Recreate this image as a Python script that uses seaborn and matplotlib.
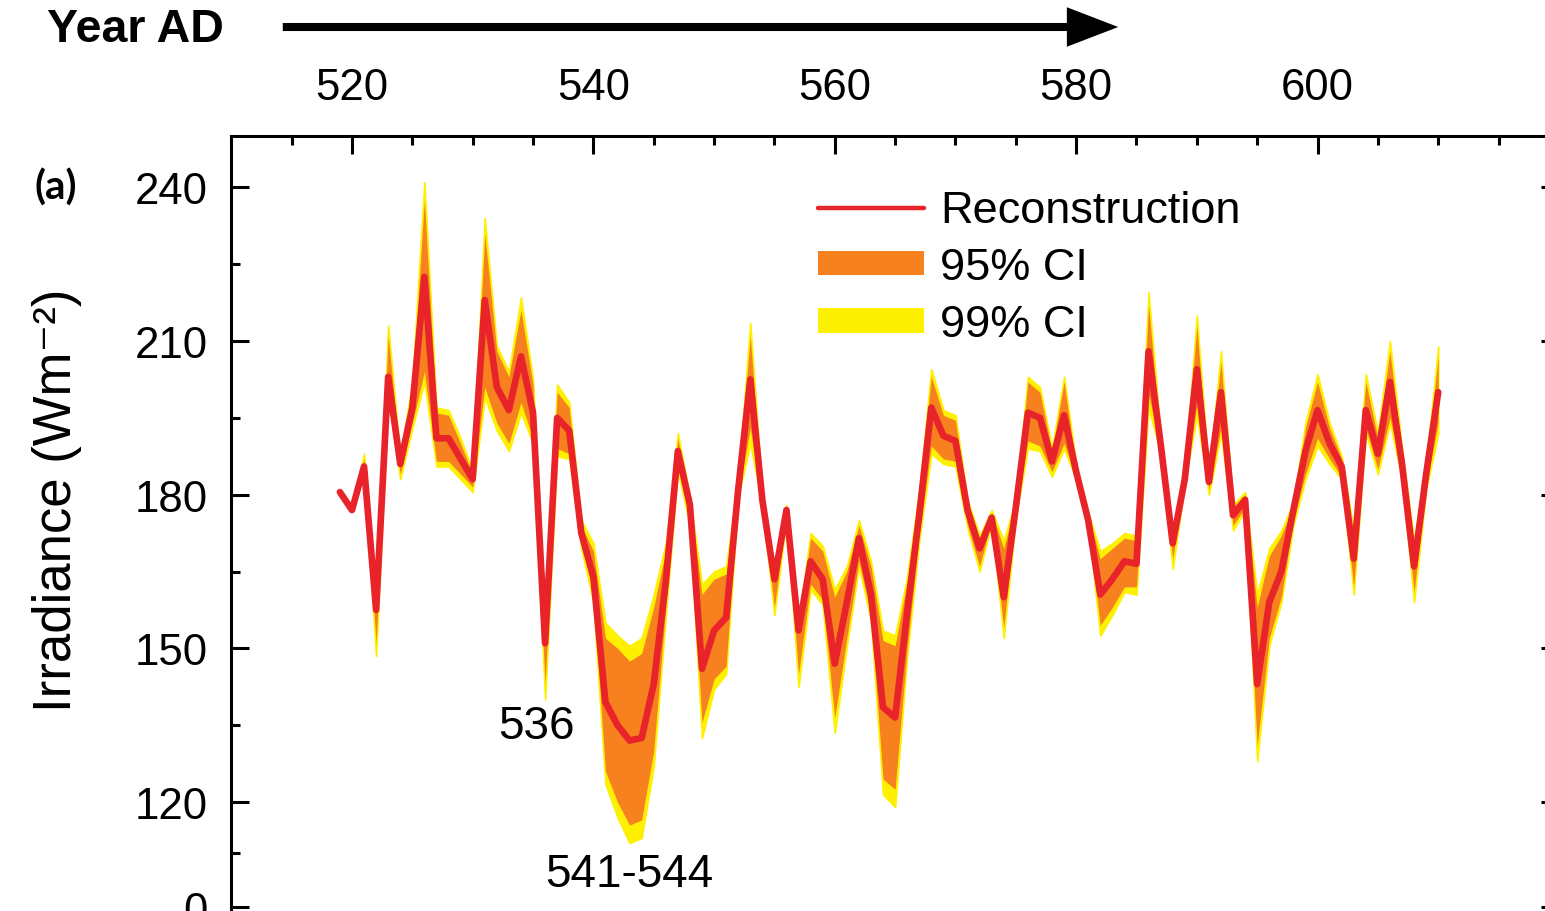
import matplotlib
matplotlib.use("Agg")
import numpy as np
import pandas as pd
import matplotlib.pyplot as plt
import seaborn as sns
from matplotlib.patches import Patch, FancyArrowPatch
from matplotlib.lines import Line2D

# irradiance reconstruction, years 519-610 AD
years = list(range(519, 611))
recon = [180.5, 177, 185.5, 157.5, 203, 186, 197, 222.5, 191, 191,
         187, 183, 218, 201, 196.5, 207, 196, 151, 195, 192.5,
         172.5, 164, 139.5, 135, 132, 132.5, 143, 163, 188.5, 178,
         146, 153.5, 156, 181, 202.5, 179, 163.5, 177, 153.5, 167,
         163.5, 147, 159, 171.5, 160.5, 138.5, 136.5, 157, 176, 197,
         191.5, 190.5, 177, 169.5, 175.5, 160, 177.5, 196, 195, 186.5,
         195.5, 184.5, 175, 160.5, 163.5, 167, 166.5, 208, 190, 170.5,
         183, 204.5, 182.5, 200, 176, 179, 143, 159, 165, 177,
         188.5, 196.5, 190, 185.5, 167.5, 196.5, 188, 202, 186, 166,
         184, 200]
ci95_lo = [180.5, 177, 185, 151, 200, 184, 194, 204, 186.5, 186.5,
           184, 181.5, 201, 194, 190, 198, 191, 143, 189, 188,
           170.5, 160.5, 126, 120, 115.5, 116.5, 130, 158, 185.5, 175,
           135.5, 144, 146.5, 180, 193, 178, 158, 176, 145, 162.5,
           159.5, 136.5, 152, 167, 156.5, 124.5, 122.5, 150, 172, 189.5,
           187, 186.5, 174, 166, 175, 154, 176, 190.5, 189.5, 184.5,
           190, 183.5, 174.5, 154.5, 158, 162, 162, 199.5, 189, 167.5,
           182.5, 197.5, 181, 193, 174, 177.5, 131, 152, 160, 175,
           184, 191, 187, 183.5, 162, 193, 185, 195, 184, 161,
           182, 194]
ci95_hi = [180.5, 177, 187, 158, 211, 187, 200.5, 237.5, 196, 195.5,
           190, 184, 231, 208, 203, 216, 201.5, 152, 200, 197,
           174, 169, 152, 150, 147.5, 149, 158, 169, 191, 179,
           160.5, 163.5, 164.5, 182.5, 211, 180, 165, 177.5, 155, 171.5,
           169, 160, 165, 174, 166, 151.5, 150.5, 163, 180, 203,
           195.5, 194.5, 178.5, 171.5, 176.5, 169.5, 178.5, 202, 200, 188.5,
           202, 185.5, 176, 167.5, 169.5, 171.5, 171, 217, 191, 172,
           184, 213, 183.5, 206, 177.5, 180, 158, 168, 172, 178,
           193, 202, 193, 187, 172, 202, 191, 208, 188, 170,
           185.5, 207]
ci99_lo = [180.5, 177, 184.5, 148.5, 199, 183, 193, 202, 185.5, 185.5,
           183, 180.5, 199, 192.5, 188.5, 196, 190, 140, 187.5, 187,
           169.5, 159, 123.5, 117, 112, 113, 127, 156.5, 184.5, 174,
           132.5, 142, 145, 179.5, 190, 177.5, 156.5, 175.5, 142.5, 161.5,
           158.5, 133.5, 150.5, 166, 155.5, 121.5, 119, 148.5, 171, 188,
           186, 185.5, 173.5, 165, 174.5, 152, 175.5, 189, 188.5, 183.5,
           189, 183, 174, 152.5, 156.5, 161, 160.5, 197, 188, 165.5,
           182, 195.5, 180, 192, 173, 177, 128, 150.5, 159, 174,
           183, 189.5, 186, 183, 160.5, 192, 184, 194, 183, 159,
           181, 192]
ci99_hi = [180.5, 177, 188, 158.5, 213, 187.5, 202, 241, 197, 196.5,
           191, 184.5, 234, 209, 204, 218.5, 202.5, 152.5, 201.5, 198,
           175, 170.5, 155, 152.5, 150.5, 152, 160.5, 170.5, 192, 179.5,
           162.5, 165, 166, 183, 213.5, 180.5, 165.5, 178, 155.5, 172.5,
           170, 161.5, 166, 175, 167, 153.5, 152.5, 164, 181, 204.5,
           196.5, 195.5, 179, 172, 177, 171, 179, 203, 201, 189,
           203, 186, 176.5, 169, 170.5, 172.5, 172, 219.5, 191.5, 172.5,
           184.5, 215, 184, 208, 178, 180.5, 160.5, 169.5, 173, 178.5,
           194, 203.5, 194, 187.5, 173, 203.5, 192, 210, 189, 171,
           186, 209]

x_major = [520, 540, 560, 580, 600]
y_major = [99.5, 120, 150, 180, 210, 240]
y_major_labels = ["0", "120", "150", "180", "210", "240"]
y_minor = [110, 135, 165, 195, 225]

df = pd.DataFrame({"year": years, "recon": recon})

red = "#e8232a"
orange = "#f7811f"
yellow = "#fdf000"

sns.set_style("ticks")
plt.rcParams["font.family"] = ["Liberation Sans", "DejaVu Sans"]
plt.rcParams["text.color"] = "black"

fig = plt.figure(figsize=(15.45, 9.12), dpi=100)
# axes runs a little past the right and bottom edges of the picture
ax = fig.add_axes([0.1497, -0.0097, 0.8593, 0.8594])

ax.fill_between(years, ci99_lo, ci99_hi, color=yellow, lw=1.2, ec=yellow, zorder=1)
ax.fill_between(years, ci95_lo, ci95_hi, color=orange, lw=0, zorder=2)
sns.lineplot(data=df, x="year", y="recon", color=red, lw=4.8, ax=ax, zorder=3)

ax.set_xlim(510, 620)
ax.set_ylim(97, 250)
ax.set_xlabel("")
ax.set_ylabel("")

ax.set_xticks(x_major)
ax.set_xticks([v for v in range(515, 620, 5) if v not in x_major], minor=True)
ax.set_yticks(y_major)
ax.set_yticklabels(y_major_labels)
ax.set_yticks(y_minor, minor=True)

ax.tick_params(which="both", direction="in", width=2.2, colors="black",
               top=True, bottom=False, left=True, right=True,
               labeltop=True, labelbottom=False, labelsize=31.5)
ax.tick_params(which="major", length=13)
ax.tick_params(which="minor", length=6.5)
ax.tick_params(axis="x", pad=20)
ax.tick_params(axis="y", pad=17)
for s in ax.spines.values():
    s.set_linewidth(2.2)
    s.set_color("black")

ax.text(535.3, 134.8, "536", fontsize=33, ha="center", va="center")
ax.text(543.0, 106.0, "541-544", fontsize=33, ha="center", va="center")

handles = [Line2D([], [], color=red, lw=3.2),
           Patch(color=orange, lw=0),
           Patch(color=yellow, lw=0)]
ax.legend(handles, ["Reconstruction", "95% CI", "99% CI"],
          loc="upper left", bbox_to_anchor=(818 / 1545, 1 - 191 / 912),
          bbox_transform=fig.transFigure, frameon=False, fontsize=32.5,
          borderpad=0, borderaxespad=0, handlelength=2.35, handleheight=0.45,
          handletextpad=0.36, labelspacing=0.36)

fig.text(57 / 1545, 1 - 500 / 912, "Irradiance (Wm\u207b\u00b2)", rotation=90,
         fontsize=38, ha="center", va="center")
fig.text(56 / 1545, 1 - 188 / 912, "(a)", fontsize=29, fontweight="bold",
         family=["Lato", "DejaVu Sans"], ha="center", va="center")
fig.text(47 / 1545, 1 - 30 / 912, "Year AD", fontsize=33.5, fontweight="bold",
         ha="left", va="center")
fig.add_artist(FancyArrowPatch(
    (280, 884), (1121, 884), transform=None,
    arrowstyle="-|>,head_length=1.3,head_width=0.5", mutation_scale=20,
    lw=5.8, color="black", capstyle="butt", joinstyle="miter"))

fig.savefig("out.png", dpi=100)
